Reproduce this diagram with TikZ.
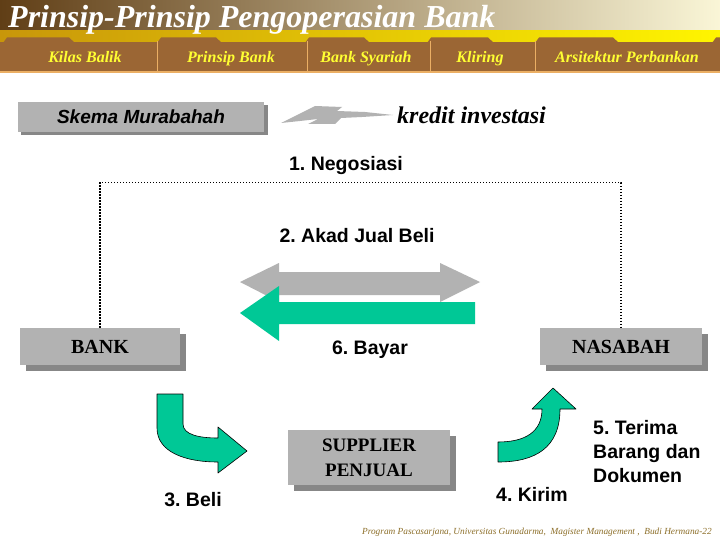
\documentclass[tikz,border=0pt]{standalone}
\usepackage{fontspec}
\setmainfont{Liberation Serif}
\setsansfont{Liberation Sans}
\frenchspacing
\definecolor{hdrdark}{RGB}{96,62,22}
\definecolor{hdrmid}{RGB}{190,160,100}
\definecolor{hdrlight}{RGB}{250,246,215}
\definecolor{golddark}{RGB}{200,150,10}
\definecolor{goldlight}{RGB}{255,245,0}
\definecolor{tabbrown}{RGB}{155,102,52}
\definecolor{tabline}{RGB}{235,175,100}
\definecolor{tabtext}{RGB}{255,255,50}
\definecolor{boxgray}{RGB}{178,178,178}
\definecolor{shadowgray}{RGB}{135,135,135}
\definecolor{arrowgreen}{RGB}{0,200,150}
\definecolor{footcol}{RGB}{140,110,40}
\tikzset{
  graybox/.style={fill=boxgray, inner sep=0pt, text=black},
  boxshadow/.style={fill=shadowgray},
  lbl/.style={font=\sffamily\bfseries\fontsize{19.5}{24}\selectfont, inner sep=0pt},
  tablbl/.style={font=\bfseries\itshape\fontsize{16}{16}\selectfont, text=tabtext, anchor=base, inner sep=0pt},
  dotline/.style={line width=1.4pt, dash pattern=on 1.4pt off 1.6pt},
  bendarrow/.style={fill=arrowgreen, draw=black, line width=0.6pt, line join=round}
}
\begin{document}
\begin{tikzpicture}[x=1pt,y=-1pt]
\useasboundingbox (0,0) rectangle (720,540);
\fill[white] (0,0) rectangle (720,540);
% header
\shade[left color=hdrdark, middle color=hdrmid, right color=hdrlight] (0,0) rectangle (720,31);
\shade[left color=golddark, right color=goldlight] (0,31) rectangle (720,43);
\fill[tabbrown] (0,42) rectangle (720,72);
\foreach \a/\b in {7/69,161/216,309/364,431/488,539/613,716/760}{
  \fill[tabbrown] (\a-4,43) -- (\a,37.5) -- (\b,37.5) -- (\b+6,43) -- cycle;
}
\foreach \x in {157,307,430,535}{
  \draw[tabline, line width=1pt] (\x,41) -- (\x,72);
}
\fill[tabline] (0,71.5) rectangle (720,73.5);
% title
\node[font=\bfseries\itshape\fontsize{32}{32}\selectfont, text=white, anchor=base west, inner sep=0pt] (title) at (8,28) {Prinsip-Prinsip Pengoperasian Bank};
% tabs
\node[tablbl] (t1) at (85,63) {Kilas Balik};
\node[tablbl] (t2) at (231,63) {Prinsip Bank};
\node[tablbl] (t3) at (366,63) {Bank Syariah};
\node[tablbl] (t4) at (480,63) {Kliring};
\node[tablbl] (t5) at (627,63) {Arsitektur Perbankan};
% Skema Murabahah
\fill[boxshadow] (21,105) rectangle (268,135);
\node[graybox, minimum width=246pt, minimum height=30pt, font=\sffamily\bfseries\itshape\fontsize{19}{19}\selectfont] (skema) at (141,117) {Skema Murabahah};
% lightning
\fill[boxgray] (281,123) -- (315,106) -- (342,107) -- (337,111) -- (365,112) -- (393,115) -- (362,117) -- (341,118) -- (335,124) -- (308,124) -- (318,119) -- (300,121) -- cycle;
\node[font=\bfseries\itshape\fontsize{24}{24}\selectfont, anchor=west, inner sep=0pt] (kredit) at (397,115) {kredit investasi};
% labels
\node[lbl] (neg) at (346,166) {1. Negosiasi};
\node[lbl] (akad) at (357,236) {2. Akad Jual Beli};
% boxes
\fill[boxshadow] (26,334) rectangle (186,371);
\node[graybox, minimum width=160pt, minimum height=37pt, font=\bfseries\fontsize{20}{20}\selectfont] (bank) at (100,346.5) {BANK};
\fill[boxshadow] (546,334) rectangle (708,371);
\node[graybox, minimum width=162pt, minimum height=37pt, font=\bfseries\fontsize{20}{20}\selectfont] (nas) at (621,346.5) {NASABAH};
\fill[boxshadow] (294,436) rectangle (456,491);
\node[graybox, minimum width=162pt, minimum height=55pt, align=center, font=\bfseries\fontsize{19}{25}\selectfont] (sup) at (369,457.5) {SUPPLIER\\PENJUAL};
% dotted negotiation line
\draw[dotline] (bank.north) -- ++(0,-145) -| (nas.north);
% straight arrows
\fill[boxgray] (240,282) -- (279,263) -- (279,272) -- (440,272) -- (440,263) -- (480,282) -- (440,302) -- (440,295) -- (279,295) -- (279,302) -- cycle;
\fill[arrowgreen] (240,313) -- (279,286) -- (279,302) -- (475,302) -- (475,324) -- (279,324) -- (279,341) -- cycle;
\node[lbl] (bayar) at (370,350) {6. Bayar};
% curved arrow 3
\filldraw[bendarrow] (157,394) -- (157,428) .. controls (157,452) and (185,462) .. (218,462) -- (218,473) -- (247,451) -- (218,427) -- (218,438) .. controls (200,438) and (183,435) .. (183,424) -- (183,394) -- cycle;
\node[lbl] (beli) at (193,500) {3. Beli};
% curved arrow 4
\filldraw[bendarrow] (498,462) .. controls (535,462) and (560,448) .. (560,409) -- (576,409) -- (553,388) -- (532,409) -- (542,409) .. controls (542,432) and (525,442) .. (498,442) -- cycle;
\node[lbl] (kirim) at (532,494) {4. Kirim};
\node[lbl, anchor=west, align=left] (terima) at (593,452) {5. Terima\\Barang dan\\Dokumen};
% footer
\node[font=\itshape\fontsize{9.3}{9.3}\selectfont, text=footcol, anchor=base east, inner sep=0pt] (foot) at (712,534) {Program Pascasarjana, Universitas Gunadarma,\ \ Magister Management ,\ \ Budi Hermana-22};
\end{tikzpicture}
\end{document}
